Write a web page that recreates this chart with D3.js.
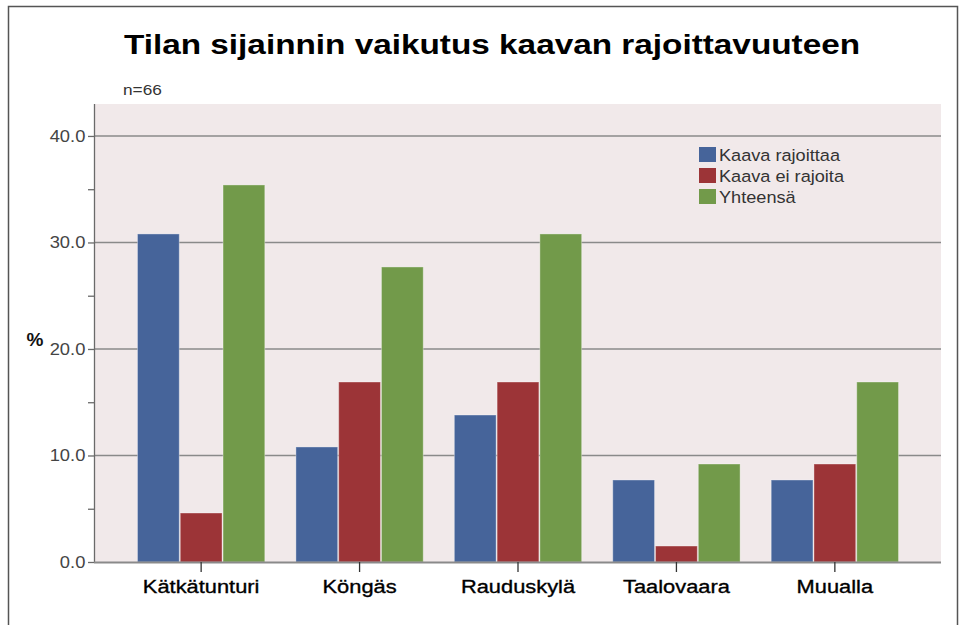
<!DOCTYPE html>
<html>
<head>
<meta charset="utf-8">
<script src="https://cdn.jsdelivr.net/npm/d3@7"></script>
<style>
  body { margin: 0; background: #fff; }
  svg { display: block; font-family: "Liberation Sans", Arial, sans-serif; }
</style>
</head>
<body>
<div id="chart"></div>
<script>
const width = 959, height = 625;

// data
const places = ["Kätkätunturi", "Köngäs", "Rauduskylä", "Taalovaara", "Muualla"];
const seriesNames = ["Kaava rajoittaa", "Kaava ei rajoita", "Yhteensä"];
const rajoittaa = [30.8, 10.8, 13.8, 7.7, 7.7];
const eiRajoita = [4.6, 16.9, 16.9, 1.5, 9.2];
const yhteensa = [35.4, 27.7, 30.8, 9.2, 16.9];
const yTicks = [0, 10, 20, 30, 40];
const yMinor = [5, 15, 25, 35];

const colors = ["#46649a", "#9c3437", "#729a4a"];
const series = [rajoittaa, eiRajoita, yhteensa];

const plot = {left: 94, right: 941, top: 104, bottom: 562};

const svg = d3.select('#chart').append('svg').attr('width', width).attr('height', height);

// frame
svg.append('path')
  .attr('d', `M8.5,${height} V6.5 H957.5 V${height}`)
  .attr('fill', 'none').attr('stroke', '#555').attr('stroke-width', 1.5);

// stretched text helper (the source is slightly wide)
function stext(parent, x, y, str, size, opts = {}) {
  return parent.append('text')
    .attr('transform', `translate(${x},${y}) scale(${opts.sx || 1.08},1)`)
    .attr('text-anchor', opts.anchor || 'start')
    .attr('font-size', size)
    .attr('font-weight', opts.bold ? 'bold' : 'normal')
    .attr('fill', opts.fill || '#222')
    .text(str);
}

stext(svg, 492, 54, "Tilan sijainnin vaikutus kaavan rajoittavuuteen", 28, {anchor: 'middle', bold: true, sx: 1.19, fill: '#000'});
stext(svg, 123, 95, "n=66", 15, {sx: 1.15, fill: '#333'});

// plot background
svg.append('rect')
  .attr('x', plot.left).attr('y', plot.top)
  .attr('width', plot.right - plot.left).attr('height', plot.bottom - plot.top)
  .attr('fill', '#f1e9ea');

const y = d3.scaleLinear().domain([0, 43]).range([plot.bottom, plot.top]);
const x = d3.scaleBand().domain(places).range([plot.left + 1, plot.right])
  .paddingInner(0.19).paddingOuter(0.265);
const xs = d3.scaleBand().domain(seriesNames).range([0, x.bandwidth()]);

// gridlines
svg.append('g').selectAll('line').data(yTicks.slice(1)).enter().append('line')
  .attr('x1', plot.left).attr('x2', plot.right)
  .attr('y1', d => y(d)).attr('y2', d => y(d))
  .attr('stroke', '#8a8a8a').attr('stroke-width', 1.5);

// bars
const groups = svg.append('g').selectAll('g').data(places).enter().append('g')
  .attr('transform', d => `translate(${x(d)},0)`);
groups.selectAll('rect')
  .data((p, i) => seriesNames.map((s, j) => ({s, j, v: series[j][i]})))
  .enter().append('rect')
  .attr('x', d => xs(d.s) + 0.5)
  .attr('width', xs.bandwidth() - 1)
  .attr('y', d => y(d.v))
  .attr('height', d => y(0) - y(d.v))
  .attr('fill', d => colors[d.j])
  .attr('stroke', 'rgba(255,255,255,0.35)').attr('stroke-width', 1);

// axes
const yAxis = svg.append('g').attr('transform', `translate(${plot.left},0)`)
  .call(d3.axisLeft(y).tickValues(yTicks).tickFormat(d3.format('.1f')).tickSize(6).tickPadding(2));
yAxis.select('.domain').attr('d', `M0.5,${plot.top}V${plot.bottom}`);
const yMin = svg.append('g').attr('transform', `translate(${plot.left},0)`)
  .call(d3.axisLeft(y).tickValues(yMinor).tickFormat('').tickSize(6));
yMin.select('.domain').remove();
[yAxis, yMin].forEach(g => {
  g.selectAll('path,line').attr('stroke', '#6a6a6a').attr('stroke-width', 1.3);
});
yAxis.selectAll('text').attr('font-size', 17).attr('fill', '#444')
  .attr('font-family', '"Liberation Sans", Arial, sans-serif')
  .attr('transform', 'scale(1.08,1)');

const xAxis = svg.append('g').attr('transform', `translate(0,${plot.bottom})`)
  .call(d3.axisBottom(x).tickSize(10).tickPadding(8));
xAxis.select('.domain').attr('d', `M${plot.left},0.5H${plot.right}`)
  .attr('stroke', '#8a8a8a').attr('stroke-width', 2);
xAxis.selectAll('line').attr('stroke', '#333').attr('stroke-width', 1.3);
xAxis.selectAll('text').attr('font-size', 19).attr('fill', '#000')
  .attr('font-family', '"Liberation Sans", Arial, sans-serif')
  .attr('stroke', '#000').attr('stroke-width', 0.35)
  .attr('transform', 'scale(1.15,1)');

// y title
stext(svg, 35, 346, "%", 19, {anchor: 'middle', bold: true, fill: '#111', sx: 1});

// legend
const legend = svg.append('g').attr('transform', 'translate(699,147)');
const items = legend.selectAll('g').data(seriesNames).enter().append('g')
  .attr('transform', (d, i) => `translate(0,${i * 21})`);
items.append('rect').attr('width', 17).attr('height', 15)
  .attr('fill', (d, i) => colors[i]);
items.each(function(d) {
  stext(d3.select(this), 20, 13.5, d, 16.5, {fill: '#333', sx: 1.1});
});
</script>
</body>
</html>
